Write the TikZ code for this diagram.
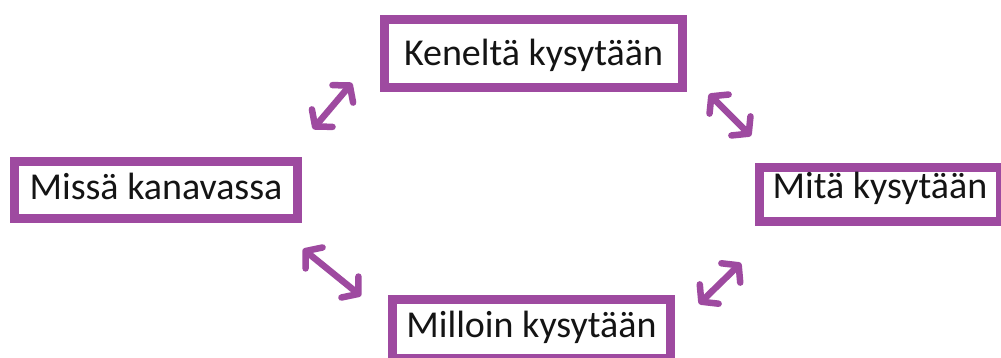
\documentclass[tikz,border=0pt]{standalone}
\usepackage{fontspec}
\setmainfont{Carlito}
\usetikzlibrary{arrows.meta}
\definecolor{boxpurple}{RGB}{158,74,160}
\definecolor{txt}{RGB}{20,20,20}
\tikzset{
  topic/.style={draw=boxpurple, line width=9pt, fill=white, text=txt,
    font=\fontsize{38}{44}\selectfont, inner sep=0pt, text height=24.5pt},
  barb/.tip={Straight Barb[length=11pt,width=27pt,line width=6.5pt,round]},
  twoway/.style={draw=boxpurple, line width=6.5pt, line cap=round, barb-barb}
}
\begin{document}
\begin{tikzpicture}[x=1pt,y=-1pt]
  \useasboundingbox (0,0) rectangle (1001,358);
  \clip (0,0) rectangle (1001,358);
  \fill[white] (0,0) rectangle (1001,358);

  % four question boxes
  \node[topic, text depth=0pt, minimum width=298pt, minimum height=68pt] (who)   at (533.5,53.5) {Keneltä kysytään};
  \node[topic, text depth=6pt, minimum width=283pt, minimum height=57pt] (where) at (156,190)   {Missä kanavassa};
  \node[topic, text depth=16pt, minimum width=241pt, minimum height=54pt] (what)  at (880,194.5) {Mitä kysytään};
  \node[topic, text depth=8pt, minimum width=278pt, minimum height=59pt] (when)  at (531.5,329) {Milloin kysytään};

  % ends of the two-way arrows between neighbouring boxes
  \coordinate (a1) at (313,129);
  \coordinate (a2) at (352,83);
  \coordinate (b1) at (709,94);
  \coordinate (b2) at (751,136);
  \coordinate (c1) at (303,249);
  \coordinate (c2) at (361,296);
  \coordinate (d1) at (699,304);
  \coordinate (d2) at (741,263);

  \draw[twoway] (a1) -- (a2);
  \draw[twoway] (b1) -- (b2);
  \draw[twoway] (c1) -- (c2);
  \draw[twoway] (d1) -- (d2);
\end{tikzpicture}
\end{document}
